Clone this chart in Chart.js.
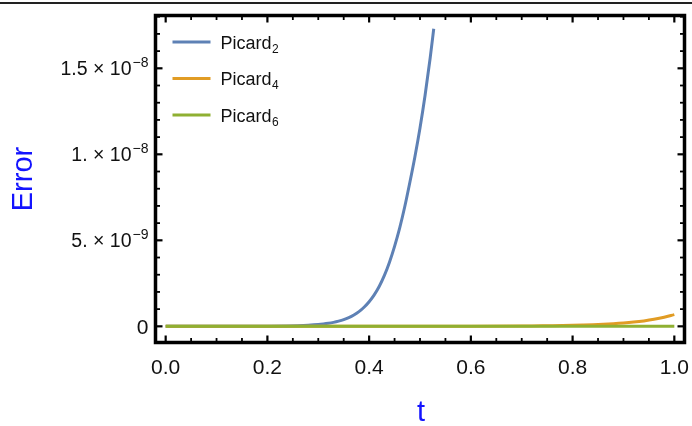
<!DOCTYPE html>
<html>
<head>
<meta charset="utf-8">
<script src="https://cdn.jsdelivr.net/npm/chart.js@4/dist/chart.umd.min.js"></script>
<style>
html,body{margin:0;padding:0;background:#fff;}
#wrap{position:relative;width:692px;height:426px;}
canvas{display:block;}
</style>
</head>
<body>
<div id="wrap"><canvas id="c" width="692" height="426"></canvas></div>
<script>
// ---- data ----
const seriesNames = ["Picard", "Picard", "Picard"];
const seriesSubs = ["2", "4", "6"];
const tPicard2 = [0, 0.1, 0.2, 0.24, 0.26, 0.28, 0.30, 0.31, 0.32, 0.33, 0.34, 0.35, 0.36, 0.37, 0.38, 0.39, 0.40, 0.41, 0.42, 0.43, 0.44, 0.45, 0.46, 0.47, 0.48, 0.49, 0.50, 0.51, 0.52, 0.527];
const ePicard2 = [0, 0, 0.007e-9, 0.02e-9, 0.035e-9, 0.06e-9, 0.10e-9, 0.132e-9, 0.174e-9, 0.229e-9, 0.30e-9, 0.389e-9, 0.507e-9, 0.66e-9, 0.855e-9, 1.11e-9, 1.43e-9, 1.83e-9, 2.33e-9, 2.96e-9, 3.73e-9, 4.65e-9, 5.71e-9, 6.95e-9, 8.36e-9, 9.86e-9, 11.53e-9, 13.43e-9, 15.6e-9, 17.3e-9];
const tPicard4 = [0, 0.4, 0.5, 0.6, 0.70, 0.72, 0.74, 0.76, 0.78, 0.80, 0.82, 0.84, 0.86, 0.88, 0.90, 0.92, 0.94, 0.96, 0.98, 1.0];
const ePicard4 = [0, 0.0005e-9, 0.002e-9, 0.006e-9, 0.019e-9, 0.024e-9, 0.03e-9, 0.038e-9, 0.048e-9, 0.06e-9, 0.076e-9, 0.095e-9, 0.12e-9, 0.152e-9, 0.193e-9, 0.246e-9, 0.315e-9, 0.406e-9, 0.526e-9, 0.68e-9];
const tPicard6 = [0, 1.0];
const ePicard6 = [0, 0];
const xTickValues = [0, 0.2, 0.4, 0.6, 0.8, 1.0];
const xTickLabels = ["0.0", "0.2", "0.4", "0.6", "0.8", "1.0"];
const yTickValues = [0, 5e-9, 1e-8, 1.5e-8];
const yTickMain = ["0", "5. \u00d7 10", "1. \u00d7 10", "1.5 \u00d7 10"];
const yTickExp = ["", "\u22129", "\u22128", "\u22128"];
const xTitle = "t";
const yTitle = "Error";

const colors = ["#5E81B5", "#E19C24", "#8FB032"];
const FONT = "'Liberation Sans', Arial, sans-serif";

function pts(ts, vs){ return ts.map((t,i)=>({x:t, y:vs[i]})); }

const decor = {
  id: 'decor',
  afterDatasetsDraw(chart){
    const ctx = chart.ctx;
    const a = chart.chartArea;
    const xs = chart.scales.x, ys = chart.scales.y;
    ctx.save();
    // top rule of the page
    ctx.fillStyle = '#222';
    ctx.fillRect(0, 2, 692, 2);
    // frame
    ctx.strokeStyle = '#000';
    ctx.lineWidth = 3.5;
    ctx.strokeRect(a.left, a.top, a.right - a.left, a.bottom - a.top);
    // ticks (inward, on all four sides)
    function vtick(px, len, w){
      ctx.lineWidth = w;
      ctx.beginPath(); ctx.moveTo(px, a.bottom); ctx.lineTo(px, a.bottom - len); ctx.stroke();
      ctx.beginPath(); ctx.moveTo(px, a.top); ctx.lineTo(px, a.top + len); ctx.stroke();
    }
    function htick(py, len, w){
      ctx.lineWidth = w;
      ctx.beginPath(); ctx.moveTo(a.left, py); ctx.lineTo(a.left + len, py); ctx.stroke();
      ctx.beginPath(); ctx.moveTo(a.right, py); ctx.lineTo(a.right - len, py); ctx.stroke();
    }
    for (let i = 0; i <= 20; i++){
      const v = i * 0.05;
      const major = i % 4 === 0;
      vtick(xs.getPixelForValue(v), major ? 7 : 4.5, major ? 2.2 : 1.8);
    }
    for (let i = 0; i <= 18; i++){
      const v = i * 1e-9;
      if (v > ys.max) break;
      const major = i % 5 === 0;
      htick(ys.getPixelForValue(v), major ? 7 : 4.5, major ? 2.2 : 1.8);
    }
    // x tick labels
    ctx.fillStyle = '#111';
    ctx.font = '21px ' + FONT;
    ctx.textAlign = 'center';
    ctx.textBaseline = 'alphabetic';
    xTickValues.forEach((v,i)=>{
      ctx.fillText(xTickLabels[i], xs.getPixelForValue(v), a.bottom + 31);
    });
    // y tick labels with superscripts
    const rightEdge = a.left - 7;
    yTickValues.forEach((v,i)=>{
      const py = ys.getPixelForValue(v);
      ctx.textAlign = 'right';
      if (yTickExp[i] === ""){
        ctx.font = '21px ' + FONT;
        ctx.fillText(yTickMain[i], rightEdge, py + 7.5);
      } else {
        ctx.font = '14px ' + FONT;
        const sw = ctx.measureText(yTickExp[i]).width;
        ctx.fillText(yTickExp[i], rightEdge, py - 1);
        ctx.font = '19.5px ' + FONT;
        ctx.fillText(yTickMain[i], rightEdge - sw - 1, py + 6.8);
      }
    });
    // axis titles
    ctx.fillStyle = '#1414FF';
    ctx.font = '29px ' + FONT;
    ctx.textAlign = 'center';
    ctx.fillText(xTitle, (a.left + a.right) / 2 + 1, 421);
    ctx.save();
    ctx.translate(32, 179);
    ctx.rotate(-Math.PI / 2);
    ctx.fillText(yTitle, 0, 0);
    ctx.restore();
    // legend
    const lx0 = a.left + 17, lx1 = a.left + 55, tx = a.left + 65;
    const ly = [a.top + 26.5, a.top + 63, a.top + 99.5];
    ctx.textAlign = 'left';
    ctx.fillStyle = '#111';
    for (let i = 0; i < 3; i++){
      ctx.strokeStyle = colors[i];
      ctx.lineWidth = 3;
      ctx.beginPath(); ctx.moveTo(lx0, ly[i]); ctx.lineTo(lx1, ly[i]); ctx.stroke();
      ctx.font = '18px ' + FONT;
      ctx.fillText(seriesNames[i], tx, ly[i] + 6.5);
      const w = ctx.measureText(seriesNames[i]).width;
      ctx.font = '12px ' + FONT;
      ctx.fillText(seriesSubs[i], tx + w + 0.5, ly[i] + 10.5);
    }
    ctx.restore();
  }
};

new Chart(document.getElementById('c'), {
  type: 'line',
  data: {
    datasets: [
      {label: 'Picard2', data: pts(tPicard2, ePicard2), borderColor: colors[0], order: 3},
      {label: 'Picard4', data: pts(tPicard4, ePicard4), borderColor: colors[1], order: 2},
      {label: 'Picard6', data: pts(tPicard6, ePicard6), borderColor: colors[2], order: 1}
    ]
  },
  options: {
    responsive: false,
    animation: false,
    devicePixelRatio: 1,
    layout: {padding: {left: 155.5, top: 15.5, right: 7.5, bottom: 83.5}},
    elements: {
      point: {radius: 0},
      line: {borderWidth: 3, cubicInterpolationMode: 'monotone', fill: false}
    },
    scales: {
      x: {type: 'linear', min: -0.02, max: 1.02, display: false},
      y: {type: 'linear', min: -0.94e-9, max: 1.807e-8, display: false}
    },
    plugins: {legend: {display: false}, tooltip: {enabled: false}}
  },
  plugins: [decor]
});
</script>
</body>
</html>
